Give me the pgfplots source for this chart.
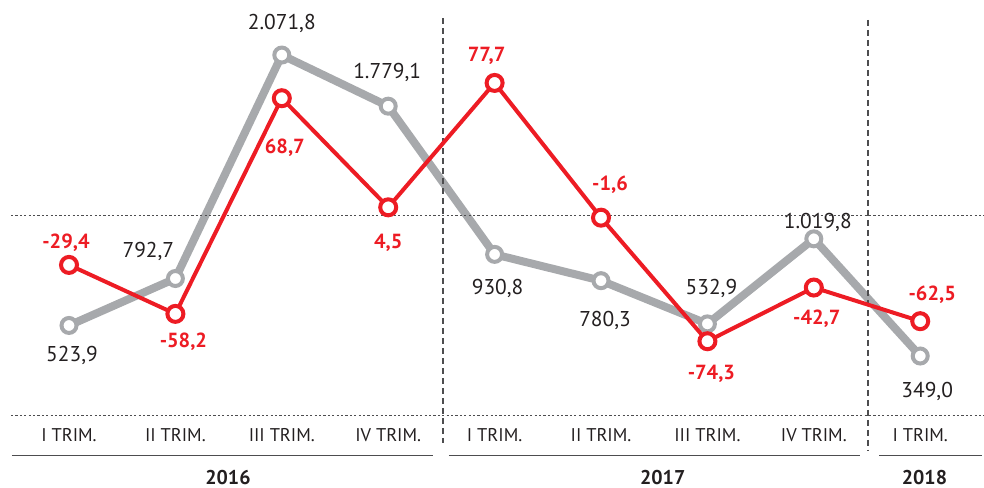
\documentclass[border=0pt]{standalone}
\usepackage{pgfplots}
\pgfplotsset{compat=1.18}
\usepackage{fontspec}
\setmainfont{PT Sans}
\definecolor{cgray}{HTML}{A7A9AC}
\definecolor{cred}{HTML}{ED1C24}
\definecolor{ctext}{HTML}{231F20}
\definecolor{cline}{HTML}{4D4D4F}
\pgfplotsset{base/.style={at={(0,73bp)}, anchor=south west, scale only axis,
  width=984bp, height=415bp, xmin=-0.6485, xmax=8.5996, hide axis, clip=false}}
\tikzset{gl/.style={font=\fontsize{21.5}{22}\selectfont, text=ctext, inner sep=0pt, text depth=0pt},
  rl/.style={font=\fontsize{20.5}{21}\selectfont\bfseries, text=cred, inner sep=0pt, text depth=0pt}}
\begin{document}
\begin{tikzpicture}[x=1bp,y=1bp]
\useasboundingbox (0,0) rectangle (984,488);
% gray series
\begin{axis}[base, ymin=11.4, ymax=2387]
\addplot[cgray, line width=8bp, mark=*, mark size=7.5bp,
  mark options={fill=white, draw=cgray, line width=4bp}]
  coordinates {(0,523.9) (1,792.7) (2,2071.8) (3,1779.1) (4,930.8) (5,780.3) (6,532.9) (7,1019.8) (8,349.0)};
\node[gl, xshift=3bp, yshift=-28bp] at (axis cs:0,523.9) {523,9};
\node[gl, xshift=-27bp, yshift=29bp] at (axis cs:1,792.7) {792,7};
\node[gl, xshift=0bp, yshift=33bp] at (axis cs:2,2071.8) {2.071,8};
\node[gl, xshift=-1bp, yshift=35bp] at (axis cs:3,1779.1) {1.779,1};
\node[gl, xshift=3bp, yshift=-32bp] at (axis cs:4,930.8) {930,8};
\node[gl, xshift=4bp, yshift=-38bp] at (axis cs:5,780.3) {780,3};
\node[gl, xshift=4bp, yshift=37bp] at (axis cs:6,532.9) {532,9};
\node[gl, xshift=4bp, yshift=18bp] at (axis cs:7,1019.8) {1.019,8};
\node[gl, xshift=7bp, yshift=-34bp] at (axis cs:8,349.0) {349,0};
\end{axis}
% red series and frame
\begin{axis}[base, ymin=-117.7, ymax=126.5]
\draw[cline, line width=0.9bp, dash pattern=on 2.2bp off 2.2bp] (axis cs:-0.545,0) -- (axis cs:8.6,0);
\draw[cline, line width=0.9bp, dash pattern=on 2.2bp off 2.2bp] (axis cs:-0.545,-118.0) -- (axis cs:8.6,-118.0);
\draw[cline, line width=1.4bp, dash pattern=on 6bp off 4bp] (axis cs:3.515,115.9) -- (axis cs:3.515,-134.2);
\draw[cline, line width=1.4bp, dash pattern=on 6bp off 4bp] (axis cs:7.51,114.8) -- (axis cs:7.51,-138.3);
\draw[cline, line width=1.2bp] (axis cs:-0.536,-141.6) -- (axis cs:3.42,-141.6);
\draw[cline, line width=1.2bp] (axis cs:3.571,-141.6) -- (axis cs:7.434,-141.6);
\draw[cline, line width=1.2bp] (axis cs:7.613,-141.6) -- (axis cs:8.58,-141.6);
\foreach \i/\t in {0/I TRIM., 1/II TRIM., 2/III TRIM., 3/IV TRIM., 4/I TRIM., 5/II TRIM., 6/III TRIM., 7/IV TRIM., 8/I TRIM.}{
  \edef\temp{\noexpand\node[font=\noexpand\fontsize{18.5}{19}\noexpand\selectfont, text=ctext, inner sep=0pt, text depth=0pt] at (axis cs:\i,-129.5) {\t};}
  \temp
}
\node[font=\fontsize{20}{21}\selectfont\bfseries, text=ctext, inner sep=0pt, text depth=0pt] at (axis cs:1.494,-154.2) {2016};
\node[font=\fontsize{20}{21}\selectfont\bfseries, text=ctext, inner sep=0pt, text depth=0pt] at (axis cs:5.58,-154.2) {2017};
\node[font=\fontsize{20}{21}\selectfont\bfseries, text=ctext, inner sep=0pt, text depth=0pt] at (axis cs:8.04,-154.2) {2018};
\addplot[cred, line width=4bp, mark=*, mark size=8bp,
  mark options={fill=white, draw=cred, line width=4bp}]
  coordinates {(0,-29.4) (1,-58.2) (2,68.7) (3,4.5) (4,77.7) (5,-1.6) (6,-74.3) (7,-42.7) (8,-62.5)};
\node[rl, xshift=-3bp, yshift=24bp] at (axis cs:0,-29.4) {-29,4};
\node[rl, xshift=8bp, yshift=-26bp] at (axis cs:1,-58.2) {-58,2};
\node[rl, xshift=3bp, yshift=-48bp] at (axis cs:2,68.7) {68,7};
\node[rl, xshift=0bp, yshift=-34bp] at (axis cs:3,4.5) {4,5};
\node[rl, xshift=-8bp, yshift=29bp] at (axis cs:4,77.7) {77,7};
\node[rl, xshift=9bp, yshift=34bp] at (axis cs:5,-1.6) {-1,6};
\node[rl, xshift=4bp, yshift=-31bp] at (axis cs:6,-74.3) {-74,3};
\node[rl, xshift=3bp, yshift=-30bp] at (axis cs:7,-42.7) {-42,7};
\node[rl, xshift=12bp, yshift=28bp] at (axis cs:8,-62.5) {-62,5};
\end{axis}
\end{tikzpicture}
\end{document}
